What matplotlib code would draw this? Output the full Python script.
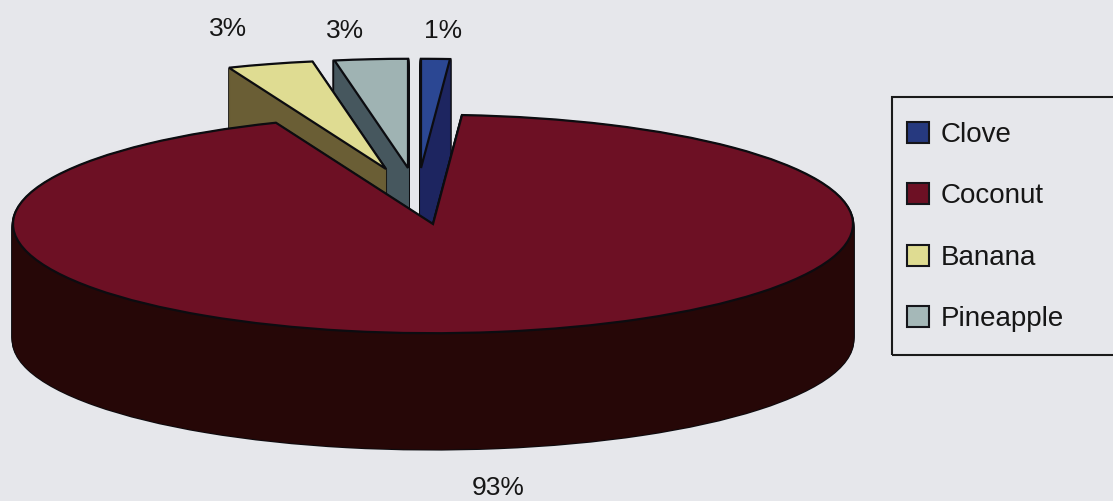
import matplotlib
matplotlib.use("Agg")
import matplotlib.pyplot as plt
from matplotlib.patches import Wedge, Rectangle, Patch

categories = ["Clove", "Coconut", "Banana", "Pineapple"]
values = [1.1, 92.8, 3.3, 2.8]
pct_labels = ["1%", "93%", "3%", "3%"]

top_colors = ["#2b4793", "#6d1024", "#dfdc92", "#9fb3b3"]
wall_colors = ["#1d2560", "#260707", "#6a5e35", "#46575e"]
legend_colors = ["#26397f", "#6d1024", "#dfdc92", "#a5b8b8"]
bg = "#e6e7eb"

W, H = 1113, 501
K = 0.26          # vertical squash of the tilted pie
RADIUS = 420
DEPTH = 116
# pixel position of each slice's apex on the picture
apex_px = {"Clove": (421, 168), "Coconut": (433, 224),
           "Banana": (386, 169), "Pineapple": (408, 168)}
draw_order = {"Pineapple": 1, "Banana": 2, "Clove": 3, "Coconut": 4}
label_px = {"Clove": (443, 31), "Coconut": (498, 488),
            "Banana": (228, 29), "Pineapple": (345, 31)}


def ydata(py):
    return (H - py) / K


plt.rcParams["font.family"] = ["Liberation Sans", "DejaVu Sans"]
fig = plt.figure(figsize=(W / 100, H / 100), dpi=100, facecolor=bg)
ax = fig.add_axes([0, 0, 1, 1])
ax.set_facecolor(bg)

wedges, _ = ax.pie(values, colors=top_colors, startangle=90, counterclock=False,
                   radius=RADIUS, frame=True,
                   wedgeprops=dict(edgecolor="#0c0c10", linewidth=1.6))

for cat, w, wall in zip(categories, wedges, wall_colors):
    px, py = apex_px[cat]
    z = draw_order[cat] * 10
    for d in range(DEPTH, 0, -1):
        ax.add_patch(Wedge((px, ydata(py + d)), RADIUS, w.theta1, w.theta2,
                           facecolor="#0c0c10", edgecolor="#0c0c10", linewidth=2.0,
                           zorder=z))
    for d in range(DEPTH, 0, -1):
        ax.add_patch(Wedge((px, ydata(py + d)), RADIUS, w.theta1, w.theta2,
                           facecolor=wall, edgecolor=wall, linewidth=0.6,
                           zorder=z + 1))
    w.set_center((px, ydata(py)))
    w.set_zorder(z + 2)

for cat, lab in zip(categories, pct_labels):
    px, py = label_px[cat]
    ax.text(px, ydata(py), lab, ha="center", va="center", fontsize=19,
            color="#161616", zorder=60)

ax.set_aspect("auto")
ax.set_xlim(0, W)
ax.set_ylim(0, H / K)
ax.axis("off")

# legend frame runs off the right edge
fig.add_artist(Rectangle((892 / W, 1 - 355 / H), 240 / W, 258 / H,
                         transform=fig.transFigure, facecolor="none",
                         edgecolor="#1a1a1a", linewidth=1.5))
handles = [Patch(facecolor=c, edgecolor="#15151a", linewidth=1.5) for c in legend_colors]
fig.legend(handles, categories, loc="upper left",
           bbox_to_anchor=(907 / W, 1 - 121.5 / H), frameon=False, fontsize=20,
           handlelength=0.8, handleheight=0.8, handletextpad=0.4,
           labelspacing=1.27, borderpad=0, borderaxespad=0, labelcolor="#161616")

fig.savefig("out.png", dpi=100, facecolor=bg)
